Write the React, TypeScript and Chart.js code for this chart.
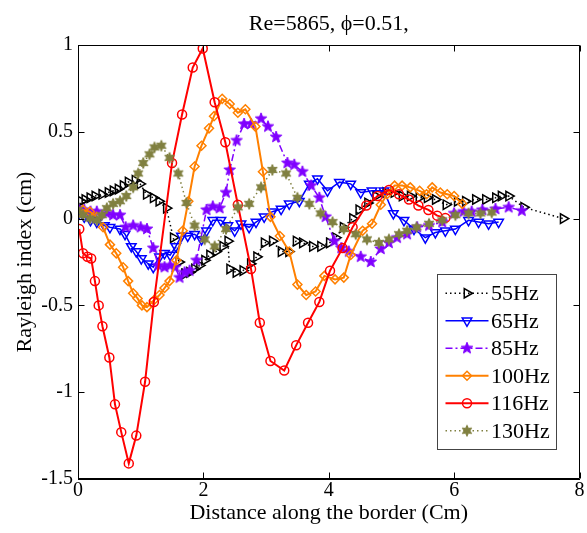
import React, { useEffect, useRef } from 'react';
import { Chart, registerables } from 'chart.js';
import { drawPoint } from 'chart.js/helpers';

Chart.register(...registerables);

const FONT = "'Liberation Serif', 'Times New Roman', 'DejaVu Serif', serif";

const titleText = 'Re=5865, \u03D5=0.51,';
const xTitle = 'Distance along the border (Cm)';
const yTitle = 'Rayleigh index (cm)';
const xTicks = [0, 2, 4, 6, 8];
const yTicks = [-1.5, -1, -0.5, 0, 0.5, 1];
const seriesLabels = ['55Hz', '65Hz', '85Hz', '100Hz', '116Hz', '130Hz'];

const s55 = [[0.0,0.06],[0.05,0.10],[0.11,0.11],[0.19,0.12],[0.27,0.13],[0.38,0.14],[0.48,0.15],[0.56,0.16],[0.64,0.17],[0.72,0.19],[0.80,0.21],[0.91,0.22],[0.99,0.20],[1.09,0.14],[1.20,0.12],[1.29,0.10],[1.41,0.06],[1.52,-0.11],[1.61,-0.25],[1.70,-0.32],[1.78,-0.31],[1.86,-0.29],[1.94,-0.27],[2.02,-0.24],[2.10,-0.21],[2.20,-0.19],[2.31,-0.16],[2.39,-0.13],[2.42,-0.29],[2.52,-0.31],[2.63,-0.30],[2.75,-0.26],[2.85,-0.22],[2.97,-0.14],[3.10,-0.13],[3.24,-0.19],[3.36,-0.19],[3.48,-0.13],[3.58,-0.14],[3.74,-0.16],[3.87,-0.16],[4.01,-0.14],[4.11,-0.11],[4.23,-0.05],[4.38,0.00],[4.48,0.05],[4.62,0.09],[4.75,0.13],[4.91,0.15],[5.04,0.15],[5.17,0.13],[5.30,0.13],[5.44,0.12],[5.57,0.12],[5.70,0.11],[5.87,0.08],[6.05,0.10],[6.18,0.10],[6.34,0.11],[6.50,0.11],[6.66,0.12],[6.75,0.13],[6.87,0.13],[7.11,0.065],[7.74,0.00]];

const s65 = [[0,0.02],[0.1,0.01],[0.2,-0.01],[0.3,-0.02],[0.42,-0.04],[0.51,-0.05],[0.67,-0.06],[0.75,-0.09],[0.85,-0.16],[0.93,-0.19],[1.01,-0.23],[1.12,-0.26],[1.20,-0.28],[1.30,-0.22],[1.38,-0.20],[1.47,-0.21],[1.56,-0.16],[1.65,-0.10],[1.75,-0.10],[1.86,-0.09],[1.97,-0.12],[2.05,-0.07],[2.15,-0.01],[2.28,-0.01],[2.39,-0.04],[2.50,-0.07],[2.60,-0.03],[2.73,-0.05],[2.84,-0.02],[2.97,0.01],[3.10,0.04],[3.24,0.055],[3.37,0.085],[3.53,0.10],[3.69,0.20],[3.82,0.23],[3.98,0.16],[4.17,0.21],[4.35,0.20],[4.51,0.15],[4.69,0.16],[4.88,0.16],[5.03,0.03],[5.20,-0.01],[5.36,-0.06],[5.54,-0.11],[5.70,-0.08],[5.86,-0.07],[6.02,-0.06],[6.23,-0.01],[6.39,-0.02],[6.55,-0.03],[6.71,-0.02]];

const s85 = [[0,0.06],[0.1,0.05],[0.2,0.04],[0.30,0.04],[0.46,0.03],[0.56,0.02],[0.67,0.02],[0.76,-0.05],[0.88,-0.04],[1.0,-0.05],[1.1,-0.06],[1.20,-0.17],[1.28,-0.27],[1.38,-0.28],[1.47,-0.27],[1.55,-0.28],[1.62,-0.34],[1.70,-0.31],[1.78,-0.30],[1.89,-0.24],[2.05,0.05],[2.15,0.07],[2.26,0.06],[2.36,0.15],[2.42,0.28],[2.53,0.45],[2.65,0.545],[2.76,0.545],[2.92,0.575],[3.03,0.53],[3.16,0.47],[3.34,0.32],[3.45,0.31],[3.58,0.27],[3.72,0.19],[3.85,0.12],[3.95,0.01],[4.09,-0.13],[4.20,-0.17],[4.32,-0.19],[4.51,-0.22],[4.67,-0.25],[4.83,-0.175],[4.96,-0.14],[5.09,-0.11],[5.25,-0.09],[5.41,-0.05],[5.60,-0.04],[5.81,-0.02],[6.0,0.03],[6.15,0.04],[6.28,0.04],[6.45,0.05],[6.66,0.055],[6.87,0.065],[7.08,0.045]];

const s100 = [[0,0.03],[0.08,0.05],[0.19,0.04],[0.30,0.01],[0.40,-0.05],[0.51,-0.15],[0.61,-0.20],[0.72,-0.28],[0.80,-0.36],[0.88,-0.43],[0.95,-0.46],[1.02,-0.50],[1.10,-0.51],[1.21,-0.47],[1.30,-0.44],[1.38,-0.40],[1.46,-0.36],[1.57,-0.24],[1.67,-0.07],[1.76,0.10],[1.86,0.30],[1.97,0.42],[2.09,0.52],[2.17,0.59],[2.30,0.69],[2.42,0.66],[2.55,0.61],[2.67,0.63],[2.83,0.53],[2.95,0.27],[3.07,0.01],[3.22,-0.10],[3.37,-0.19],[3.50,-0.38],[3.64,-0.44],[3.79,-0.42],[3.93,-0.33],[4.10,-0.35],[4.24,-0.34],[4.35,-0.21],[4.54,-0.07],[4.69,-0.03],[4.83,0.08],[4.93,0.14],[5.05,0.19],[5.17,0.19],[5.30,0.18],[5.45,0.16],[5.56,0.14],[5.65,0.18],[5.78,0.15],[5.89,0.14],[6.0,0.13],[6.13,0.085]];

const s116 = [[0.02,-0.06],[0.08,-0.20],[0.15,-0.22],[0.21,-0.23],[0.27,-0.36],[0.33,-0.50],[0.39,-0.62],[0.50,-0.80],[0.59,-1.07],[0.69,-1.23],[0.81,-1.41],[0.93,-1.25],[1.07,-0.94],[1.21,-0.48],[1.50,0.32],[1.66,0.60],[1.83,0.87],[1.99,0.98],[2.18,0.67],[2.35,0.44],[2.55,0.08],[2.76,-0.29],[2.90,-0.60],[3.07,-0.82],[3.29,-0.875],[3.48,-0.73],[3.67,-0.60],[3.85,-0.48],[4.02,-0.30],[4.22,-0.17],[4.38,-0.05],[4.60,0.075],[4.78,0.13],[4.96,0.165],[5.12,0.14],[5.28,0.11],[5.43,0.075],[5.59,0.05],[5.73,0.017],[5.86,0.004]];

const s130 = [[0,0.05],[0.08,0.02],[0.19,0.00],[0.30,-0.01],[0.38,0.02],[0.46,0.06],[0.56,0.085],[0.67,0.10],[0.77,0.13],[0.88,0.18],[0.96,0.26],[1.04,0.32],[1.14,0.37],[1.22,0.41],[1.33,0.42],[1.46,0.35],[1.60,0.26],[1.73,0.09],[1.86,-0.04],[2.02,-0.12],[2.18,-0.16],[2.36,-0.06],[2.55,0.065],[2.73,0.085],[2.92,0.18],[3.10,0.28],[3.32,0.26],[3.50,0.12],[3.69,0.085],[3.87,0.03],[4.06,-0.02],[4.24,-0.06],[4.43,-0.09],[4.61,-0.12],[4.80,-0.14],[4.96,-0.12],[5.12,-0.09],[5.25,-0.07],[5.40,-0.05],[5.60,-0.03],[5.81,-0.01],[6.02,0.02],[6.23,0.03],[6.42,0.03],[6.60,0.035]];

function makeStar(color: string, points: number, outer: number, inner: number, size: number) {
  const c = document.createElement('canvas');
  c.width = size;
  c.height = size;
  const g = c.getContext('2d')!;
  g.fillStyle = color;
  g.strokeStyle = color;
  g.lineWidth = 1;
  g.beginPath();
  for (let k = 0; k < 2 * points; k++) {
    const r = k % 2 === 0 ? outer : inner;
    const ang = -Math.PI / 2 + (k * Math.PI) / points;
    const px = size / 2 + r * Math.cos(ang);
    const py = size / 2 + r * Math.sin(ang);
    if (k === 0) g.moveTo(px, py);
    else g.lineTo(px, py);
  }
  g.closePath();
  g.fill();
  g.stroke();
  return c;
}

const framePlugin = {
  id: 'frameTicks',
  afterDatasetsDraw(chart: any) {
    const { ctx, chartArea: a, scales } = chart;
    const x = scales.x;
    const y = scales.y;
    ctx.save();
    ctx.strokeStyle = '#000';
    ctx.lineWidth = 1;
    const L = Math.round(a.left) + 0.5;
    const R = Math.round(a.right) - 0.5;
    const T = Math.round(a.top) + 0.5;
    const B = Math.round(a.bottom) - 0.5;
    ctx.beginPath();
    ctx.rect(L, T, R - L, B - T);
    const tl = 6;
    xTicks.forEach((v) => {
      const p = Math.round(x.getPixelForValue(v)) + 0.5;
      ctx.moveTo(p, B); ctx.lineTo(p, B - tl);
      ctx.moveTo(p, T); ctx.lineTo(p, T + tl);
    });
    yTicks.forEach((v) => {
      const p = Math.round(y.getPixelForValue(v)) + 0.5;
      ctx.moveTo(L, p); ctx.lineTo(L + tl, p);
      ctx.moveTo(R, p); ctx.lineTo(R - tl, p);
    });
    ctx.stroke();
    ctx.restore();
  },
  afterDraw(chart: any) {
    const { ctx, chartArea: a } = chart;
    ctx.save();
    // title
    ctx.fillStyle = '#000';
    ctx.font = `22px ${FONT}`;
    ctx.textAlign = 'center';
    ctx.textBaseline = 'alphabetic';
    ctx.fillText(titleText, (a.left + a.right) / 2, 30);
    // legend box
    const bw = 119, bh = 175;
    const bx = Math.round(a.right - 24 - bw) + 0.5;
    const by = Math.round(a.bottom - 30 - bh) + 0.5;
    ctx.fillStyle = '#fff';
    ctx.fillRect(bx, by, bw, bh);
    ctx.strokeStyle = '#444';
    ctx.lineWidth = 1;
    ctx.strokeRect(bx, by, bw, bh);
    const rowH = 27.5;
    chart.data.datasets.forEach((ds: any, i: number) => {
      const cy = by + 5 + rowH / 2 + i * rowH;
      ctx.save();
      ctx.strokeStyle = ds.borderColor;
      ctx.lineWidth = ds.borderWidth;
      ctx.setLineDash(ds.borderDash || []);
      ctx.beginPath();
      ctx.moveTo(bx + 8, cy);
      ctx.lineTo(bx + 51, cy);
      ctx.stroke();
      ctx.setLineDash([]);
      ctx.fillStyle = ds.pointBackgroundColor;
      ctx.strokeStyle = ds.pointBorderColor;
      ctx.lineWidth = ds.pointBorderWidth;
      drawPoint(ctx, { pointStyle: ds.pointStyle, rotation: ds.pointRotation || 0, radius: ds.pointRadius, borderWidth: ds.pointBorderWidth }, bx + 29.5, cy);
      ctx.restore();
      ctx.fillStyle = '#000';
      ctx.font = `22px ${FONT}`;
      ctx.textAlign = 'left';
      ctx.textBaseline = 'middle';
      ctx.fillText(ds.label, bx + 53.5, cy + 1);
    });
    ctx.restore();
  },
};

export default function App() {
  const ref = useRef<HTMLCanvasElement | null>(null);
  useEffect(() => {
    if (!ref.current) return;
    const none = 'rgba(0,0,0,0)';
    const purpleStar = makeStar('#8000ff', 5, 6, 2.6, 14);
    const oliveStar = makeStar('#808040', 6, 5.5, 2.8, 14);
    const toPts = (arr: number[][]) => arr.map(([x, y]) => ({ x, y }));
    const defs = [
      { data: s55, color: '#000000', width: 1.5, dash: [1.5, 3], style: 'triangle', rot: 90, r: 5.5, fill: none },
      { data: s65, color: '#0000ff', width: 1.5, dash: [], style: 'triangle', rot: 180, r: 5.5, fill: none },
      { data: s85, color: '#8000ff', width: 1.5, dash: [7, 3, 2, 3], style: purpleStar, rot: 0, r: 6, fill: '#8000ff' },
      { data: s100, color: '#ff8000', width: 2, dash: [], style: 'rectRot', rot: 0, r: 4.5, fill: none },
      { data: s116, color: '#ff0000', width: 2, dash: [], style: 'circle', rot: 0, r: 4.5, fill: none },
      { data: s130, color: '#808040', width: 1.5, dash: [1.5, 3], style: oliveStar, rot: 0, r: 6, fill: '#808040' },
    ];
    const datasets = defs.map((d, i) => ({
      label: seriesLabels[i],
      data: toPts(d.data),
      showLine: true,
      borderColor: d.color,
      borderWidth: d.width,
      borderDash: d.dash,
      pointStyle: d.style as any,
      pointRotation: d.rot,
      pointRadius: d.r,
      pointBorderColor: d.color,
      pointBackgroundColor: d.fill,
      pointBorderWidth: 1.5,
      order: defs.length - i,
      tension: 0,
    }));
    const chart = new Chart(ref.current, {
      type: 'scatter',
      data: { datasets },
      options: {
        animation: false,
        responsive: false,
        devicePixelRatio: 1,
        layout: { padding: { top: 45, right: 6, left: 0, bottom: 0 } },
        plugins: { legend: { display: false }, title: { display: false }, tooltip: { enabled: false } },
        scales: {
          x: {
            type: 'linear',
            min: 0,
            max: 8,
            afterBuildTicks: (s: any) => { s.ticks = xTicks.map((v) => ({ value: v })); },
            afterFit: (s: any) => { s.height = 54; },
            grid: { display: false, drawTicks: false },
            border: { display: true, color: '#000', width: 1 },
            ticks: { font: { family: FONT, size: 20 }, color: '#000', padding: 0, maxRotation: 0, autoSkip: false, callback: (v: any) => String(v) },
            title: { display: true, text: xTitle, font: { family: FONT, size: 22 }, color: '#000', padding: { top: 0, bottom: 7 } },
          },
          y: {
            type: 'linear',
            min: -1.5,
            max: 1,
            afterBuildTicks: (s: any) => { s.ticks = yTicks.map((v) => ({ value: v })); },
            afterFit: (s: any) => { s.width = 78; },
            grid: { display: false, drawTicks: false },
            border: { display: true, color: '#000', width: 1 },
            ticks: { font: { family: FONT, size: 20 }, color: '#000', padding: 5, autoSkip: false, callback: (v: any) => String(v) },
            title: { display: true, text: yTitle, font: { family: FONT, size: 22 }, color: '#000', padding: { top: 12, bottom: 0 } },
          },
        },
      },
      plugins: [framePlugin],
    });
    return () => chart.destroy();
  }, []);
  return (
    <div style={{ position: 'absolute', left: 0, top: 0, width: 587, height: 533, background: '#fff' }}>
      <canvas ref={ref} width={587} height={533} style={{ display: 'block' }} />
    </div>
  );
}
